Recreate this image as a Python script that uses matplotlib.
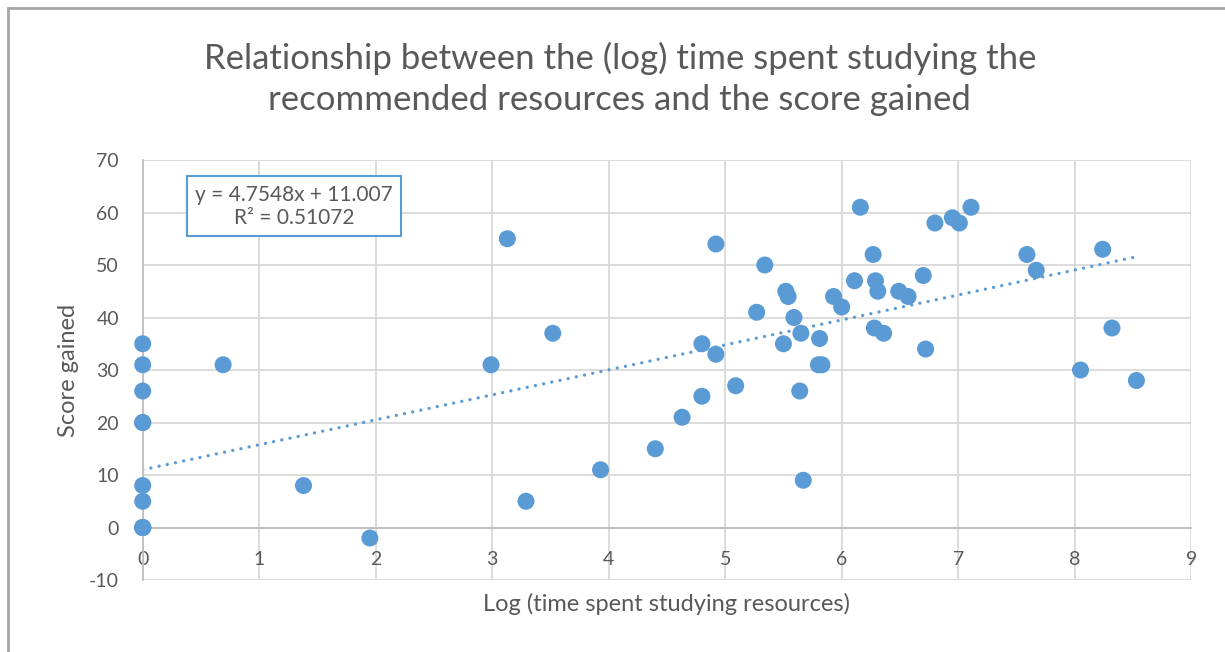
import numpy as np
import matplotlib.pyplot as plt
from matplotlib.lines import Line2D

# Daten
log_time = [0, 0, 0, 0, 0, 0, 0, 0, 0, 0, 0,
            0.69, 1.38, 1.95, 2.99, 3.13, 3.29, 3.52, 3.93, 4.40, 4.63,
            4.80, 4.80, 4.92, 4.92, 5.09, 5.27, 5.34, 5.50, 5.52, 5.54,
            5.59, 5.64, 5.65, 5.67, 5.81, 5.80, 5.83, 5.93, 6.00, 6.11,
            6.16, 6.27, 6.28, 6.29, 6.31, 6.36, 6.49, 6.57, 6.70, 6.72,
            6.80, 6.95, 7.01, 7.11, 7.59, 7.67, 8.05, 8.24, 8.32, 8.53]
score = [35, 31, 26, 20, 20, 8, 5, 0, 0, 0, 0,
         31, 8, -2, 31, 55, 5, 37, 11, 15, 21,
         25, 35, 54, 33, 27, 41, 50, 35, 45, 44,
         40, 26, 37, 9, 36, 31, 31, 44, 42, 47,
         61, 52, 38, 47, 45, 37, 45, 44, 48, 34,
         58, 59, 58, 61, 52, 49, 30, 53, 38, 28]

# Trendlinie aus Excel
slope = 4.7548
intercept = 11.007
r2 = 0.51072

x_ticks = list(range(0, 10))
y_ticks = list(range(-10, 80, 10))

blue = '#5B9BD5'
grey_txt = '#595959'
grid_col = '#d9d9d9'

plt.rcParams['font.family'] = ['Lato', 'DejaVu Sans']
plt.rcParams['axes.unicode_minus'] = False

fig = plt.figure(figsize=(12.25, 6.52), dpi=100)
ax = fig.add_axes([0.1165, 0.1104, 0.8559, 0.6442])

ax.scatter(log_time, score, s=150, color=blue, edgecolors='none', zorder=3,
           clip_on=False)

xs = np.array([min(log_time), max(log_time)])
ax.plot(xs, slope * xs + intercept, color=blue, lw=2.4,
        linestyle=(0, (0.01, 2.5)), dash_capstyle='round', zorder=2)

ax.set_xlim(0, 9)
ax.set_ylim(-10, 70)
ax.set_xticks(x_ticks)
ax.set_yticks(y_ticks)
ax.grid(True, color=grid_col, lw=1.3, zorder=0)
ax.set_axisbelow(True)

for s in ['top', 'right']:
    ax.spines[s].set_visible(False)
ax.spines['bottom'].set_position(('data', 0))
ax.spines['bottom'].set_color('#bfbfbf')
ax.spines['bottom'].set_linewidth(1.3)
ax.spines['left'].set_color('#bfbfbf')
ax.spines['left'].set_linewidth(1.3)
ax.tick_params(length=0, labelsize=14, colors=grey_txt)
ax.tick_params(axis='x', pad=17)
ax.tick_params(axis='y', pad=17)

ax.set_xlabel('Log (time spent studying resources)', fontsize=17, color=grey_txt)
ax.xaxis.set_label_coords(0.5, -0.03)
ax.set_ylabel('Score gained', fontsize=17, color=grey_txt, labelpad=7)

ax.text(1.30, 61.2, f'y = {slope}x + {intercept}\nR² = {r2}', fontsize=15,
        color=grey_txt, ha='center', va='center', linespacing=1.2,
        bbox=dict(boxstyle='square,pad=0.4', fc='white', ec=blue, lw=1.5),
        zorder=5)

fig.text(0.506, 0.879, 'Relationship between the (log) time spent studying the\n'
         'recommended resources and the score gained',
         ha='center', va='center', fontsize=25, color=grey_txt,
         linespacing=1.35)

# Rahmen links/oben
fig.add_artist(Line2D([8 / 1225, 8 / 1225], [0, 1 - 8 / 652],
                      transform=fig.transFigure, color='#a6a6a6', lw=2))
fig.add_artist(Line2D([8 / 1225, 1], [1 - 8 / 652, 1 - 8 / 652],
                      transform=fig.transFigure, color='#a6a6a6', lw=2))

fig.savefig('out.png', dpi=100)
